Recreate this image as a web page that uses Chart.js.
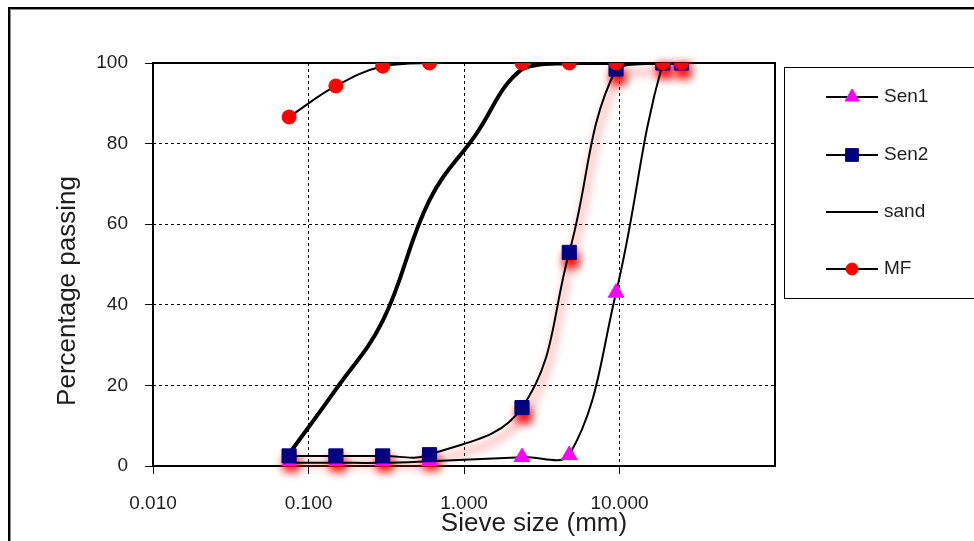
<!DOCTYPE html>
<html>
<head>
<meta charset="utf-8">
<title>Sieve analysis</title>
<script src="https://cdn.jsdelivr.net/npm/chart.js@4/dist/chart.umd.min.js"></script>
<style>
  html, body { margin: 0; padding: 0; background: #fff; overflow: hidden; }
  #wrap { position: relative; width: 974px; height: 541px; }
  #frame { position: absolute; left: 8px; top: 7px; width: 990px; height: 560px;
           border-top: 2px solid #000; border-left: 2px solid #000;
           box-shadow: inset 1px 1px 0 #8c8c8c; }
  #chart { position: absolute; left: 0; top: 0; }
</style>
</head>
<body>
<div id="wrap">
  <div id="frame"></div>
  <canvas id="chart" width="974" height="541"></canvas>
</div>
<script>
// sieve openings (mm) and % passing
const sieveSizes = [0.075, 0.15, 0.3, 0.6, 2.36, 4.75, 9.5, 19, 25];
const sen1 = [0.8, 0.8, 0.8, 1.2, 2.2, 2.7, 43, 100, 100];
const sen2 = [2.5, 2.5, 2.5, 2.8, 14.5, 53, 98.5, 100, 100];
const mf = [86.6, 94.3, 99.2, 100, 100, 100, 100, 100, 100];
const sandSizes = [0.075, 0.15, 0.3, 0.6, 1.18, 2.36, 4.75, 9.5, 19, 25];
const sand = [3, 19, 36, 66, 82, 98.5, 100, 100, 100, 100];

const xTicks = [0.01, 0.1, 1, 10];
const yTicks = [0, 20, 40, 60, 80, 100];

const FONT = '"Liberation Sans", Arial, sans-serif';
const TEXT = '#1e1e1e';

const pts = (xs, ys) => xs.map((x, i) => ({ x: x, y: ys[i] }));

const datasets = [
  { label: 'Sen1', data: pts(sieveSizes, sen1), order: 3,
    borderColor: '#000', borderWidth: 2, tension: 0.4,
    pointStyle: 'triangle', pointRadius: 9, pointBackgroundColor: '#ff00ff', pointBorderColor: '#ff00ff', pointBorderWidth: 1 },
  { label: 'Sen2', data: pts(sieveSizes, sen2), order: 1,
    borderColor: '#000', borderWidth: 2, tension: 0.4,
    pointStyle: 'rect', pointRadius: 10, pointBackgroundColor: '#000080', pointBorderColor: '#000080', pointBorderWidth: 1 },
  { label: 'sand', data: pts(sandSizes, sand), order: 2,
    borderColor: '#000', borderWidth: 4, tension: 0.4, pointRadius: 0 },
  { label: 'MF', data: pts(sieveSizes, mf), order: 0,
    borderColor: '#000', borderWidth: 2, tension: 0.4,
    pointStyle: 'circle', pointRadius: 7, pointBackgroundColor: '#ff0000', pointBorderColor: '#ff0000', pointBorderWidth: 1 }
];

// plot frame, red soft shadow of Sen2, axis titles and the boxed legend
const decorPlugin = {
  id: 'decor',
  beforeDatasetsDraw(chart) {
    const { ctx, chartArea: a } = chart;
    ctx.save();
    ctx.strokeStyle = '#000';
    ctx.lineWidth = 2;
    ctx.strokeRect(a.left, a.top, a.right - a.left, a.bottom - a.top);
    ctx.restore();

    const idx = chart.data.datasets.findIndex(d => d.label === 'Sen2');
    const meta = chart.getDatasetMeta(idx);
    meta.dataset.updateControlPoints(a, 'x');
    ctx.save();
    ctx.filter = 'blur(4px)';
    ctx.translate(2, 8);
    ctx.strokeStyle = 'rgba(255,70,70,0.35)';
    ctx.lineWidth = 7;
    ctx.beginPath();
    meta.dataset.path(ctx);
    ctx.stroke();
    ctx.fillStyle = 'rgba(255,0,0,0.95)';
    meta.data.forEach(p => {
      ctx.fillRect(p.x - 8, p.y - 8, 16, 16);
    });
    ctx.restore();
  },
  afterDraw(chart) {
    const ctx = chart.ctx;
    ctx.save();
    ctx.fillStyle = TEXT;
    ctx.font = '26px ' + FONT;
    ctx.textAlign = 'center';
    ctx.textBaseline = 'middle';
    ctx.fillText('Sieve size (mm)', 534, 524);
    ctx.translate(68, 291);
    ctx.rotate(-Math.PI / 2);
    ctx.fillText('Percentage passing', 0, 0);
    ctx.restore();

    // legend
    ctx.save();
    ctx.strokeStyle = '#000';
    ctx.lineWidth = 1;
    ctx.strokeRect(784.5, 67.5, 220, 231);
    const rows = [97, 155, 212, 269];
    chart.data.datasets.forEach((ds, i) => {
      const y = rows[i];
      ctx.strokeStyle = '#000';
      ctx.lineWidth = 2;
      ctx.beginPath();
      ctx.moveTo(826, y);
      ctx.lineTo(878, y);
      ctx.stroke();
      if (ds.pointRadius) {
        ctx.fillStyle = ds.pointBackgroundColor;
        ctx.strokeStyle = ds.pointBorderColor;
        ctx.lineWidth = 1;
        Chart.helpers.drawPoint(ctx, { pointStyle: ds.pointStyle, radius: ds.pointRadius - 1, rotation: 0, borderWidth: 1 }, 852, y);
      }
      ctx.fillStyle = TEXT;
      ctx.font = '19px ' + FONT;
      ctx.textAlign = 'left';
      ctx.textBaseline = 'middle';
      ctx.fillText(ds.label, 884, y);
    });
    ctx.restore();
  }
};

const edgeColor = (lo, hi) => c => (c.tick && (c.tick.value === lo || c.tick.value === hi)) ? 'rgba(0,0,0,0)' : '#000';

new Chart(document.getElementById('chart'), {
  type: 'line',
  data: { datasets: datasets },
  options: {
    responsive: false,
    animation: false,
    devicePixelRatio: 1,
    layout: { padding: { top: 63, right: 199, bottom: 0, left: 0 } },
    plugins: { legend: { display: false }, tooltip: { enabled: false } },
    scales: {
      x: {
        type: 'logarithmic',
        min: 0.01,
        max: 100,
        afterBuildTicks: s => { s.ticks = xTicks.map(v => ({ value: v })); },
        afterFit: s => { s.height = 75; },
        border: { display: false, dash: [3, 3] },
        grid: { color: edgeColor(0.01, 100), lineWidth: 1, tickColor: '#000', tickLength: 8 },
        ticks: { color: TEXT, font: { family: FONT, size: 19 }, padding: 18, maxRotation: 0,
                 callback: v => Number(v).toFixed(3) }
      },
      y: {
        min: 0,
        max: 100,
        afterBuildTicks: s => { s.ticks = yTicks.map(v => ({ value: v })); },
        afterFit: s => { s.width = 153; },
        border: { display: false, dash: [3, 3] },
        grid: { color: edgeColor(0, 100), lineWidth: 1, tickColor: '#000', tickLength: 8 },
        ticks: { color: TEXT, font: { family: FONT, size: 19 }, padding: 17 }
      }
    }
  },
  plugins: [decorPlugin]
});
</script>
</body>
</html>
